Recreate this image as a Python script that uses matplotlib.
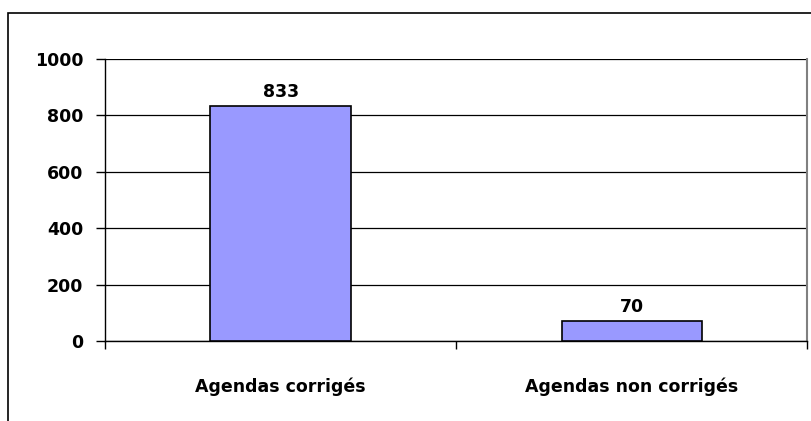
import matplotlib
matplotlib.use("Agg")
import matplotlib.pyplot as plt
from matplotlib.patches import Rectangle

categories = ["Agendas corrigés", "Agendas non corrigés"]
values = [833, 70]
yticks = [0, 200, 400, 600, 800, 1000]

W, H = 812, 421

plt.rcParams['font.family'] = ['DejaVu Sans']
plt.rcParams['font.weight'] = 'bold'

fig = plt.figure(figsize=(W / 100, H / 100), dpi=100)
ax = fig.add_axes([105 / W, 1 - 341 / H, (807.5 - 105) / W, (341 - 59) / H])

# outer chart frame (runs off the bottom and right of the image)
top = 1 - 12.5 / H
fig.patches.append(Rectangle((8 / W, -0.2), 1.2, top + 0.2,
                             transform=fig.transFigure, fill=False,
                             edgecolor="black", linewidth=1.2, clip_on=False))

x = range(len(categories))
bars = ax.bar(x, values, width=0.4, color="#9999FF", edgecolor="black", linewidth=1.2, zorder=3)

for b, v in zip(bars, values):
    ax.annotate(str(v), (b.get_x() + b.get_width() / 2, v), xytext=(0, 4),
                textcoords="offset points", ha="center", va="bottom",
                fontsize=12.5, fontweight="bold")

ax.set_xlim(-0.5, len(categories) - 0.5)
ax.set_ylim(0, 1000)
ax.set_yticks(yticks)
ax.set_yticklabels([str(t) for t in yticks])
ax.yaxis.grid(True, color="black", linewidth=0.9)
ax.set_axisbelow(True)

ax.set_xticks(list(x))
ax.set_xticklabels(categories)
ax.tick_params(axis="x", length=0, pad=26, labelsize=12.5)
ax.set_xticks([-0.5, 0.5, 1.5], minor=True)
ax.tick_params(axis="x", which="minor", length=5.5, width=1, color="black")
ax.tick_params(axis="y", length=6.5, width=1, pad=9, labelsize=12.5)

ax.spines["top"].set_visible(False)
ax.spines["right"].set_color("#808080")
ax.spines["right"].set_linewidth(1.5)
ax.spines["left"].set_linewidth(1)
ax.spines["bottom"].set_linewidth(1)

fig.savefig("out.png", dpi=100)
